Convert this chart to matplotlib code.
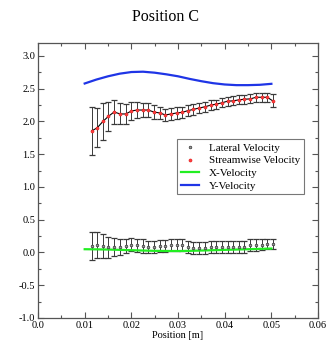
import matplotlib
matplotlib.use("Agg")
import matplotlib.pyplot as plt
from matplotlib.ticker import MultipleLocator

plt.rcParams['font.family'] = ['Liberation Serif', 'DejaVu Serif']

# measured positions [m]
pos = [0.0115, 0.0127, 0.0139, 0.0151, 0.0163, 0.0176, 0.0188, 0.0200, 0.0212,
       0.0224, 0.0236, 0.0248, 0.0261, 0.0273, 0.0285, 0.0297, 0.0309, 0.0321,
       0.0333, 0.0345, 0.0358, 0.0370, 0.0382, 0.0394, 0.0406, 0.0418, 0.0430,
       0.0442, 0.0455, 0.0467, 0.0479, 0.0491, 0.0503]

streamwise = [1.855, 1.905, 2.00, 2.08, 2.145, 2.115, 2.115, 2.16, 2.175, 2.175,
              2.175, 2.145, 2.13, 2.10, 2.115, 2.13, 2.14, 2.165, 2.185, 2.205,
              2.225, 2.25, 2.265, 2.285, 2.31, 2.315, 2.33, 2.34, 2.345, 2.37,
              2.37, 2.37, 2.315]
streamwise_err = [0.36, 0.30, 0.28, 0.22, 0.18, 0.16, 0.15, 0.13, 0.12, 0.11,
                  0.10, 0.10, 0.09, 0.09, 0.09, 0.09, 0.08, 0.08, 0.08, 0.08,
                  0.08, 0.08, 0.07, 0.07, 0.07, 0.07, 0.07, 0.07, 0.07, 0.07,
                  0.07, 0.07, 0.10]

lateral = [0.099, 0.115, 0.099, 0.079, 0.079, 0.079, 0.099, 0.120, 0.109, 0.099,
           0.089, 0.089, 0.099, 0.099, 0.109, 0.109, 0.109, 0.089, 0.069, 0.069,
           0.069, 0.079, 0.089, 0.089, 0.089, 0.089, 0.089, 0.089, 0.109, 0.115,
           0.120, 0.130, 0.130]
lateral_err = [0.21, 0.20, 0.18, 0.16, 0.14, 0.12, 0.11, 0.10, 0.10, 0.10,
               0.09, 0.09, 0.09, 0.09, 0.09, 0.09, 0.09, 0.09, 0.09, 0.09,
               0.09, 0.09, 0.09, 0.09, 0.09, 0.09, 0.09, 0.09, 0.09, 0.09,
               0.08, 0.08, 0.08]

# simulation curves
sim_x = [0.010, 0.0125, 0.015, 0.0175, 0.020, 0.0225, 0.025, 0.0275, 0.030,
         0.0325, 0.035, 0.0375, 0.040, 0.0425, 0.045, 0.0475, 0.050]
x_vel = [0.050, 0.048, 0.045, 0.040, 0.035, 0.030, 0.025, 0.023, 0.022,
         0.025, 0.030, 0.035, 0.040, 0.045, 0.050, 0.055, 0.060]
y_vel = [2.58, 2.64, 2.69, 2.73, 2.755, 2.76, 2.745, 2.72, 2.69,
         2.65, 2.615, 2.585, 2.565, 2.555, 2.555, 2.56, 2.575]

fig = plt.figure(figsize=(3.32, 3.47), dpi=100)
ax = fig.add_axes([0.1145, 0.0836, 0.8435, 0.7928])

def draw_errs(y, err):
    eb = ax.errorbar(pos, y, yerr=err, fmt='none', ecolor='#3a3a3a',
                     elinewidth=0.7, capsize=2.2, capthick=0.9, zorder=2)
    for cap in eb[1]:
        cap.set_color('#a0a0a0')

draw_errs(streamwise, streamwise_err)
draw_errs(lateral, lateral_err)

ax.plot(sim_x, x_vel, color='#22ee22', lw=1.6, zorder=3, label='X-Velocity')
ax.plot(sim_x, y_vel, color='#1f35e6', lw=1.6, zorder=3, label='Y-Velocity')

ax.plot(pos, streamwise, color='black', lw=0.8, zorder=4)
lat = ax.plot(pos, lateral, ls='none', marker='o', ms=1.9, mfc='#9a9a9a',
              mec='#333333', mew=0.5, zorder=5, label='Lateral Velocity')[0]
stw = ax.plot(pos, streamwise, ls='none', marker='o', ms=2.2, mfc='#ff4040',
              mec='#e01818', mew=0.4, zorder=5, label='Streamwise Velocity')[0]

ax.set_xlim(0.0, 0.06)
ax.set_ylim(-1.0, 3.2)
ax.xaxis.set_minor_locator(MultipleLocator(0.005))
ax.yaxis.set_minor_locator(MultipleLocator(0.25))
ax.set_xticks([0.0, 0.01, 0.02, 0.03, 0.04, 0.05, 0.06])
ax.set_xticklabels(['0.0', '0.01', '0.02', '0.03', '0.04', '0.05', '0.06'])
ax.set_yticks([-1.0, -0.5, 0.0, 0.5, 1.0, 1.5, 2.0, 2.5, 3.0])
ax.set_yticklabels(['-1.0', '-0.5', '0.0', '0.5', '1.0', '1.5', '2.0', '2.5', '3.0'])
ax.tick_params(which='both', direction='in', top=True, right=True,
               labelsize=7.5, pad=2, color='#555555')
ax.tick_params(which='major', length=4, width=0.8)
ax.tick_params(which='minor', length=2, width=0.8)
for sp in ax.spines.values():
    sp.set_linewidth(0.9)
    sp.set_color('#555555')

ax.set_xlabel('Position [m]', fontsize=7.5, labelpad=1)
fig.suptitle('Position C', fontsize=11.5, y=0.975)

handles, labels = ax.get_legend_handles_labels()
order = [labels.index(n) for n in ['Lateral Velocity', 'Streamwise Velocity',
                                   'X-Velocity', 'Y-Velocity']]
leg = ax.legend([handles[i] for i in order], [labels[i] for i in order],
                loc='upper left', bbox_to_anchor=(0.4975, 0.65), fontsize=8,
                frameon=True, fancybox=False, edgecolor='#555555',
                handlelength=1.6, handletextpad=0.9, borderpad=0.35,
                labelspacing=0.25, borderaxespad=0)
leg.get_frame().set_linewidth(0.8)

fig.savefig('out.png', dpi=100)
